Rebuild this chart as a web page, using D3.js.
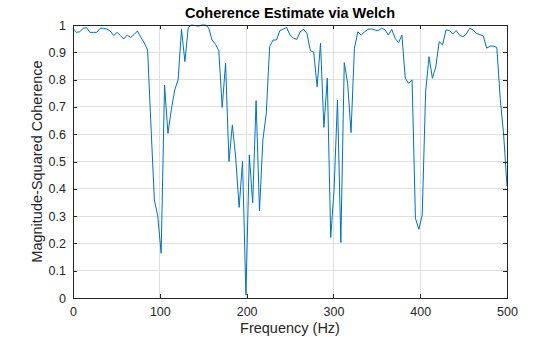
<!DOCTYPE html>
<html>
<head>
<meta charset="utf-8">
<script src="https://cdn.jsdelivr.net/npm/d3@7"></script>
<style>
  html, body { margin: 0; padding: 0; background: #fff; }
  svg { display: block; font-family: "Liberation Sans", Arial, Helvetica, sans-serif; }
</style>
</head>
<body>
<svg id="chart" width="560" height="337"></svg>
<script>
// Magnitude-squared coherence, 129 bins from 0 to 500 Hz (fs = 1000, nfft = 256)
const binCount = 129;
const sampleRate = 1000;
const coherence = [
  0.988, 0.973, 0.975, 0.988, 0.990, 0.973, 0.973, 0.973, 0.988, 0.988,
  0.985, 0.978, 0.961, 0.973, 0.961, 0.949, 0.963, 0.954, 0.965, 0.978,
  0.955, 0.935, 0.908, 0.630, 0.359, 0.300, 0.164, 0.780, 0.603, 0.690,
  0.762, 0.799, 0.984, 0.866, 0.991, 1.000, 0.998, 0.996, 1.000, 1.000,
  0.990, 0.945, 0.930, 0.906, 0.698, 0.860, 0.500, 0.634, 0.512, 0.332,
  0.500, 0.011, 0.524, 0.349, 0.723, 0.319, 0.579, 0.676, 0.921, 0.945,
  0.945, 0.979, 0.985, 0.991, 0.963, 0.952, 0.947, 0.975, 0.984, 0.969,
  0.906, 0.900, 0.774, 0.933, 0.625, 0.805, 0.222, 0.396, 0.725, 0.203,
  0.862, 0.786, 0.606, 0.915, 0.975, 0.963, 0.975, 0.984, 0.986, 0.982,
  0.979, 0.988, 0.983, 0.963, 0.984, 0.951, 0.935, 0.963, 0.805, 0.786,
  0.799, 0.292, 0.252, 0.304, 0.756, 0.884, 0.805, 0.847, 0.939, 0.927,
  0.982, 0.980, 0.967, 0.980, 0.963, 0.957, 0.967, 0.988, 0.982, 0.969,
  0.965, 0.960, 0.915, 0.923, 0.923, 0.918, 0.730, 0.600, 0.410
];
const frequency = d3.range(binCount).map(i => i * sampleRate / 256);

const xTicks = [0, 100, 200, 300, 400, 500];
const yTicks = [0, 0.1, 0.2, 0.3, 0.4, 0.5, 0.6, 0.7, 0.8, 0.9, 1];

const titleText = "Coherence Estimate via Welch";
const xLabelText = "Frequency (Hz)";
const yLabelText = "Magnitude-Squared Coherence";

const margin = { left: 73, right: 53, top: 25, bottom: 39 };
const W = 560, H = 337;
const iw = W - margin.left - margin.right;
const ih = H - margin.top - margin.bottom;

const svg = d3.select("#chart");
const g = svg.append("g").attr("transform", `translate(${margin.left},${margin.top})`);

const x = d3.scaleLinear().domain([0, 500]).range([0, iw]);
const y = d3.scaleLinear().domain([0, 1]).range([ih, 0]);

const axisColor = "#262626";
const gridColor = "#dfdfdf";

// grid
g.append("g").selectAll("line").data(xTicks).join("line")
  .attr("x1", d => x(d)).attr("x2", d => x(d))
  .attr("y1", 0).attr("y2", ih)
  .attr("stroke", gridColor).attr("stroke-width", 1)
  .attr("shape-rendering", "crispEdges");
g.append("g").selectAll("line").data(yTicks).join("line")
  .attr("y1", d => y(d)).attr("y2", d => y(d))
  .attr("x1", 0).attr("x2", iw)
  .attr("stroke", gridColor).attr("stroke-width", 1)
  .attr("shape-rendering", "crispEdges");

// coherence trace
const line = d3.line()
  .x((d, i) => x(frequency[i]))
  .y(d => y(d));
g.append("path")
  .datum(coherence)
  .attr("fill", "none")
  .attr("stroke", "#0072BD")
  .attr("stroke-width", 1)
  .attr("stroke-linejoin", "round")
  .attr("d", line);

// axes (ticks pointing inward, box on all four sides)
function styleAxis(sel) {
  sel.select(".domain").attr("stroke", axisColor).attr("shape-rendering", "crispEdges");
  sel.selectAll(".tick line").attr("stroke", axisColor).attr("shape-rendering", "crispEdges");
  sel.selectAll(".tick text").attr("fill", axisColor).attr("font-size", 12.5);
}
const xAxis = g.append("g").attr("transform", `translate(0,${ih})`)
  .call(d3.axisBottom(x).tickValues(xTicks).tickSize(-4).tickPadding(9).tickSizeOuter(0));
styleAxis(xAxis);
const xAxisTop = g.append("g")
  .call(d3.axisTop(x).tickValues(xTicks).tickSize(-4).tickSizeOuter(0).tickFormat(""));
styleAxis(xAxisTop);
const yAxis = g.append("g")
  .call(d3.axisLeft(y).tickValues(yTicks).tickSize(-4).tickPadding(7).tickSizeOuter(0)
    .tickFormat(d => d === 0 || d === 1 ? String(d) : d3.format(".1f")(d)));
styleAxis(yAxis);
const yAxisRight = g.append("g").attr("transform", `translate(${iw},0)`)
  .call(d3.axisRight(y).tickValues(yTicks).tickSize(-4).tickSizeOuter(0).tickFormat(""));
styleAxis(yAxisRight);

// labels
svg.append("text")
  .attr("x", margin.left + iw / 2).attr("y", 18)
  .attr("text-anchor", "middle")
  .attr("font-size", 14.5).attr("font-weight", "bold")
  .attr("fill", "#000")
  .text(titleText);
svg.append("text")
  .attr("x", margin.left + iw / 2).attr("y", 333)
  .attr("text-anchor", "middle")
  .attr("font-size", 14.5)
  .attr("fill", axisColor)
  .text(xLabelText);
svg.append("text")
  .attr("transform", `translate(42,${margin.top + ih / 2}) rotate(-90)`)
  .attr("text-anchor", "middle")
  .attr("font-size", 14.5)
  .attr("fill", axisColor)
  .text(yLabelText);
</script>
</body>
</html>
